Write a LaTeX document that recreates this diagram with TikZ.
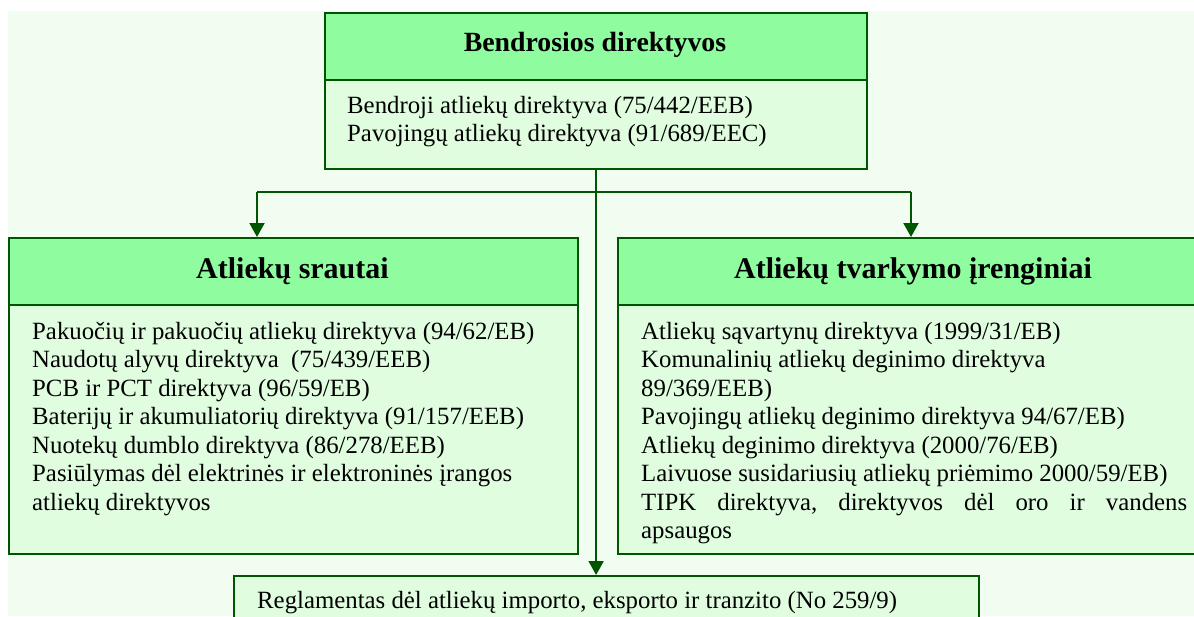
\documentclass[tikz,border=0pt]{standalone}
\usepackage{fontspec}
\setmainfont{Liberation Serif}
\usetikzlibrary{arrows.meta}
\definecolor{bgc}{RGB}{242,253,242}
\definecolor{hdr}{RGB}{144,252,160}
\definecolor{bdy}{RGB}{224,253,224}
\definecolor{dk}{RGB}{0,85,0}
\newcommand\mylines[1]{\vtop{\baselineskip=28.5pt\lineskiplimit=-50pt\lineskip=0pt #1}}
\tikzset{
  hdrbox/.style={draw=dk, fill=hdr, line width=2.2pt, inner sep=0pt, anchor=north west},
  bdybox/.style={draw=dk, fill=bdy, line width=2.2pt, inner sep=0pt, anchor=north west},
  ttl/.style={anchor=base, inner sep=0pt, font=\fontsize{27.8}{30}\selectfont\bfseries},
  hd/.style={anchor=base, inner sep=0pt, font=\fontsize{30}{33}\selectfont\bfseries},
  txt/.style={anchor=base west, inner sep=0pt, font=\fontsize{24.8}{28.5}\selectfont},
  conn/.style={draw=dk, line width=2pt},
  arr/.style={conn, -{Triangle[width=15pt,length=14pt]}}
}
\begin{document}
\begin{tikzpicture}[x=1pt,y=-1pt]
\useasboundingbox (0,0) rectangle (1194,616);
\clip (0,0) rectangle (1194,616);
\fill[bgc] (8,11) rectangle (1194,616);
% top box
\node[hdrbox, minimum width=542pt, minimum height=67pt] (tophead) at (324,12) {};
\node[bdybox, minimum width=542pt, minimum height=89pt] (topbody) at (324,79) {};
\node[ttl] (toptitle) at (595,51) {Bendrosios direktyvos};
\node[txt] (toptext) at (347,113) {\mylines{%
\hbox{Bendroji atliekų direktyva (75/442/EEB)}
\hbox{Pavojingų atliekų direktyva (91/689/EEC)}}};
% left box
\node[hdrbox, minimum width=569pt, minimum height=67pt] (lefthead) at (8,237) {};
\node[bdybox, minimum width=569pt, minimum height=249pt] (leftbody) at (8,304) {};
\node[hd] (lefttitle) at (292.5,278) {Atliekų srautai};
\node[txt] (lefttext) at (32,339) {\mylines{%
\hbox{Pakuočių ir pakuočių atliekų direktyva (94/62/EB)}
\hbox{Naudotų alyvų direktyva\ \ (75/439/EEB)}
\hbox{PCB ir PCT direktyva (96/59/EB)}
\hbox{Baterijų ir akumuliatorių direktyva (91/157/EEB)}
\hbox{Nuotekų dumblo direktyva (86/278/EEB)}
\hbox{Pasiūlymas dėl elektrinės ir elektroninės įrangos}
\hbox{atliekų direktyvos}}};
% right box
\node[hdrbox, minimum width=600pt, minimum height=67pt] (righthead) at (617,237) {};
\node[bdybox, minimum width=600pt, minimum height=249pt] (rightbody) at (617,304) {};
\node[hd] (righttitle) at (913,278) {Atliekų tvarkymo įrenginiai};
\node[txt] (righttext) at (641,339) {\mylines{%
\hbox{Atliekų sąvartynų direktyva (1999/31/EB)}
\hbox{Komunalinių atliekų deginimo direktyva}
\hbox{89/369/EEB)}
\hbox{Pavojingų atliekų deginimo direktyva 94/67/EB)}
\hbox{Atliekų deginimo direktyva (2000/76/EB)}
\hbox{Laivuose susidariusių atliekų priėmimo 2000/59/EB)}
\hbox to 546pt{TIPK\hfill direktyva,\hfill direktyvos\hfill dėl\hfill oro\hfill ir\hfill vandens}
\hbox{apsaugos}}};
% bottom box
\node[bdybox, minimum width=745pt, minimum height=70pt] (regl) at (233,575) {};
\node[txt] (regltext) at (257,608) {Reglamentas dėl atliekų importo, eksporto ir tranzito (No 259/9)};
% connectors
\coordinate (lj) at (257,192);
\coordinate (rj) at (911,192);
\draw[conn] (lj) -- (rj);
\draw[arr] (lj) -- (lj |- lefthead.north);
\draw[arr] (rj) -- (rj |- righthead.north);
\draw[arr] (topbody.south) -- (topbody.south |- regl.north);
\end{tikzpicture}
\end{document}
